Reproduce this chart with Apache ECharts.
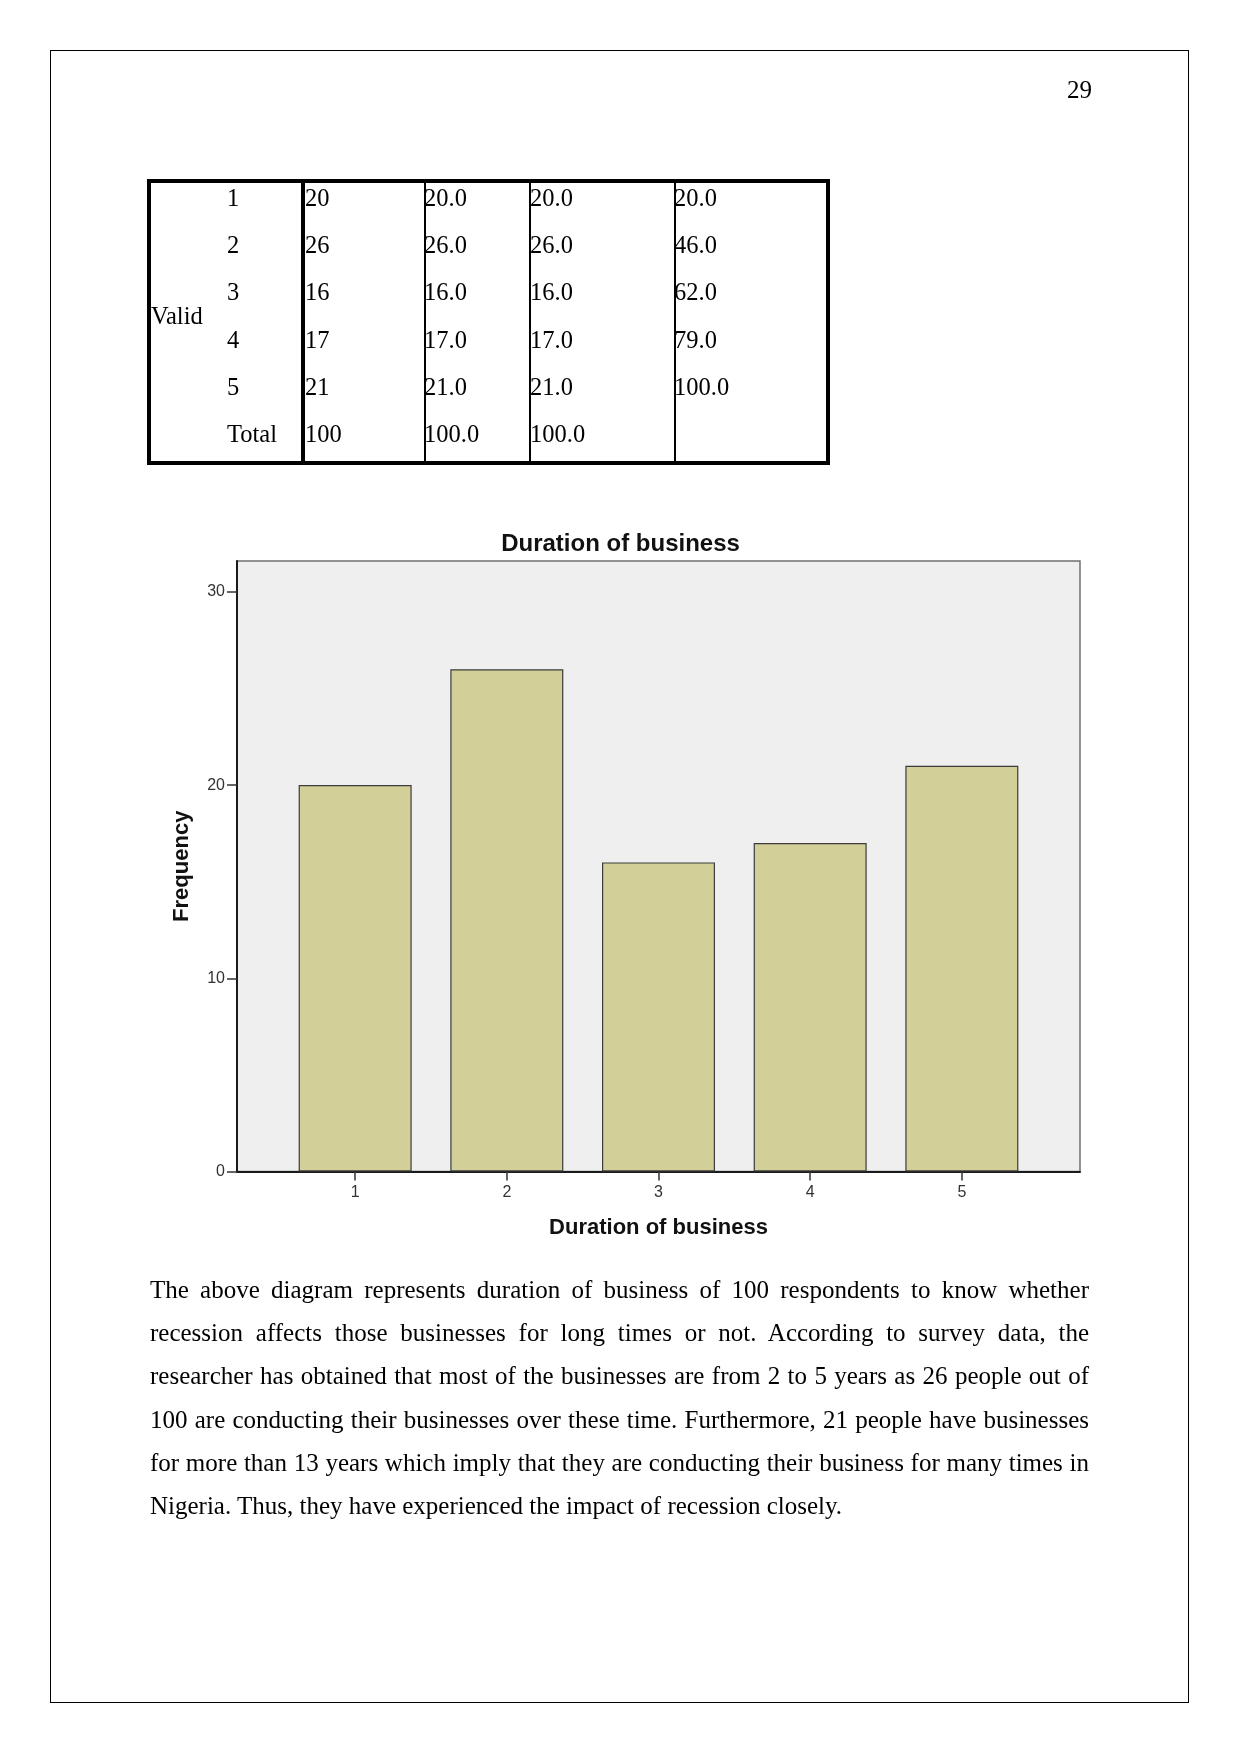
<!DOCTYPE html>
<html>
<head>
<meta charset="utf-8">
<script src="https://cdn.jsdelivr.net/npm/echarts@6/dist/echarts.min.js"></script>
<style>
  html, body { margin: 0; padding: 0; background: #fff; }
  #page { position: relative; width: 1241px; height: 1754px; overflow: hidden; background: #fff; font-family: 'Liberation Serif', 'Times New Roman', serif; color: #000; }
  #chart { position: absolute; left: 0; top: 0; width: 1241px; height: 1754px; }
  .abs { position: absolute; white-space: nowrap; }
  .line { position: absolute; left: 150px; width: 939px; font-size: 25px; line-height: 30px; height: 30px; text-align: justify; text-align-last: justify; white-space: normal; }
  .cell { position: absolute; font-size: 24.5px; line-height: 30px; height: 30px; white-space: nowrap; }
</style>
</head>
<body>
<div id="page">
  <div id="chart"></div>
</div>
<script>
// ---- Table data (frequency table) ----
const rowLabels = ['1', '2', '3', '4', '5', 'Total'];
const frequency = ['20', '26', '16', '17', '21', '100'];
const percent = ['20.0', '26.0', '16.0', '17.0', '21.0', '100.0'];
const validPercent = ['20.0', '26.0', '16.0', '17.0', '21.0', '100.0'];
const cumulativePercent = ['20.0', '46.0', '62.0', '79.0', '100.0', ''];
const groupLabel = 'Valid';

// ---- Chart data ----
const chartTitle = 'Duration of business';
const xAxisName = 'Duration of business';
const yAxisName = 'Frequency';
const categories = [1, 2, 3, 4, 5];
const counts = [20, 26, 16, 17, 21];
const yTicks = [0, 10, 20, 30];

// ---- Page text ----
const pageNumber = '29';
const paragraphLines = [
  'The above diagram represents duration of business of 100 respondents to know whether',
  'recession affects those businesses for long times or not. According to survey data, the',
  'researcher has obtained that most of the businesses are from 2 to 5 years as 26 people out of',
  '100 are conducting their businesses over these time. Furthermore, 21 people have businesses',
  'for more than 13 years which imply that they are conducting their business for many times in',
  'Nigeria. Thus, they have experienced the impact of recession closely.'
];

const page = document.getElementById('page');
function addDiv(cls, styles, text) {
  const d = document.createElement('div');
  d.className = cls;
  Object.assign(d.style, styles);
  if (text !== undefined) d.textContent = text;
  page.appendChild(d);
  return d;
}

// page frame
addDiv('abs', { left: '50px', top: '50px', width: '1139px', height: '1653px', border: '1px solid #000', boxSizing: 'border-box' });
// page number
addDiv('abs', { right: (1241 - 1092) + 'px', top: '75px', fontSize: '25px', lineHeight: '30px' }, pageNumber);

// table borders
addDiv('abs', { left: '147px', top: '179px', width: '683px', height: '286px', border: '4px solid #000', boxSizing: 'border-box' });
addDiv('abs', { left: '301px', top: '179px', width: '4px', height: '286px', background: '#000' });
[424, 529, 674].forEach(x => addDiv('abs', { left: x + 'px', top: '179px', width: '1.5px', height: '286px', background: '#000' }));

// table text
addDiv('cell', { left: '151px', top: (316 - 15) + 'px' }, groupLabel);
const colX = [227, 305, 424, 530, 674];
rowLabels.forEach((lab, i) => {
  const cy = 198 + 47.2 * i;
  const vals = [lab, frequency[i], percent[i], validPercent[i], cumulativePercent[i]];
  vals.forEach((v, j) => {
    if (v !== '') addDiv('cell', { left: colX[j] + 'px', top: (cy - 15) + 'px' }, v);
  });
});

// paragraph
paragraphLines.forEach((t, i) => {
  const d = addDiv('line', { top: (1290 + 43.2 * i - 15) + 'px' }, t);
  if (i === paragraphLines.length - 1) { d.style.textAlign = 'left'; d.style.textAlignLast = 'left'; }
});

// ---- Chart ----
const chart = echarts.init(document.getElementById('chart'), null, { renderer: 'canvas' });
const sans = 'Liberation Sans, Arial, sans-serif';
chart.setOption({
  animation: false,
  title: {
    text: chartTitle,
    left: 'center',
    top: 527,
    textStyle: { fontFamily: sans, fontSize: 24, fontWeight: 'bold', color: '#111' }
  },
  grid: {
    left: 237, top: 561, width: 843, height: 610.5,
    show: true, backgroundColor: '#efefef', borderColor: '#707070', borderWidth: 1.5
  },
  xAxis: {
    type: 'value',
    min: 0.221, max: 5.779,
    name: xAxisName,
    nameLocation: 'middle',
    nameGap: 45,
    nameTextStyle: { fontFamily: sans, fontSize: 22, fontWeight: 'bold', color: '#111' },
    axisLine: { show: true, lineStyle: { color: '#1a1a1a', width: 2 } },
    axisTick: { show: true, length: 9, customValues: categories, lineStyle: { color: '#333', width: 1.5 } },
    axisLabel: { customValues: categories, margin: 13, fontFamily: sans, fontSize: 16, color: '#333', formatter: v => String(v) },
    splitLine: { show: false }
  },
  yAxis: {
    type: 'value',
    min: 0, max: 31.6,
    name: yAxisName,
    nameLocation: 'middle',
    nameRotate: 90,
    nameGap: 44,
    nameTextStyle: { fontFamily: sans, fontSize: 22, fontWeight: 'bold', color: '#111' },
    axisLine: { show: true, lineStyle: { color: '#1a1a1a', width: 2 } },
    axisTick: { show: true, length: 10, customValues: yTicks, lineStyle: { color: '#333', width: 1.5 } },
    axisLabel: { customValues: yTicks, margin: 12, fontFamily: sans, fontSize: 16, color: '#333' },
    splitLine: { show: false }
  },
  series: [{
    type: 'bar',
    barWidth: 113,
    data: categories.map((c, i) => [c, counts[i]]),
    itemStyle: { color: '#d3cf98', borderColor: '#3c3c3c', borderWidth: 1.2 }
  }]
});
</script>
</body>
</html>
